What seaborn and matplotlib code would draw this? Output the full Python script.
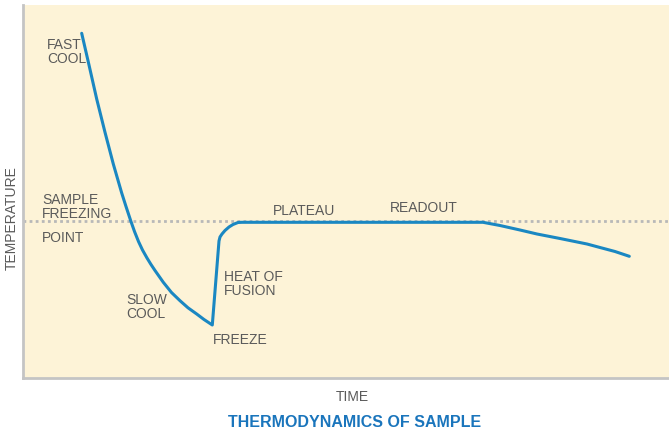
import matplotlib
matplotlib.use("Agg")
import matplotlib.pyplot as plt
import seaborn as sns

# Curve (arbitrary units: time ->, temperature ^)
time = [58.7, 66, 73.7, 82, 90.3, 98.7, 103, 107.7, 111.5, 115.5, 119.5,
        124, 128, 132, 140.3, 148.5, 157, 165, 173.7, 181, 189.3,
        196, 197, 199, 202, 206, 210, 215, 219,
        460, 477, 497, 514, 537, 564, 577, 592, 606.3]
temperature = [344.7, 313, 279, 245.7, 214, 185, 171.5, 157.3, 146.5, 136.5, 128,
               120, 113.5, 107.5, 95.7, 85.5, 77.3, 70.2, 64, 58.5, 53,
               137, 141, 144, 147.5, 151, 153.5, 155.5, 155.7,
               155.7, 152.5, 148, 144, 139.5, 134, 130.5, 126.5, 121.7]
freezing_point = 157.3

labels = ["FAST\nCOOL", "SAMPLE\nFREEZING", "POINT", "SLOW\nCOOL",
          "HEAT OF\nFUSION", "FREEZE", "PLATEAU", "READOUT"]
label_x = [24, 19, 19, 103, 201, 190, 250, 367]
label_y = [341, 186, 148, 86, 109, 46, 175, 178]

bg = "#fdf3d7"
blue = "#1a87c2"
grey_text = "#5a5a5a"

sns.set_style("white")
plt.rcParams["font.family"] = ["Liberation Sans", "DejaVu Sans"]

W, H = 669, 431
fig = plt.figure(figsize=(W / 100, H / 100), dpi=100)
ax = fig.add_axes([23 / W, (H - 379) / H, (W - 23) / W, (379 - 6) / H])
ax.set_facecolor(bg)

ax.axhline(freezing_point, color="#b8b8b8", lw=2, ls=(0, (1, 1.2)), zorder=1)
sns.lineplot(x=time, y=temperature, sort=False, estimator=None, ax=ax,
             color=blue, lw=2.2, zorder=3)

for txt, x, y in zip(labels, label_x, label_y):
    ax.text(x, y, txt, ha="left", va="top", fontsize=10, color=grey_text,
            linespacing=1.0)

ax.set_xlim(0, W - 23)
ax.set_ylim(0, 373)
ax.set_xticks([])
ax.set_yticks([])
ax.set_xlabel("")
ax.set_ylabel("")
for side in ["top", "right"]:
    ax.spines[side].set_visible(False)
for side in ["left", "bottom"]:
    ax.spines[side].set_color("#c4c4c4")
    ax.spines[side].set_linewidth(2)

fig.text(352 / W, 1 - 397 / H, "TIME", ha="center", va="center",
         fontsize=10, color=grey_text)
fig.text(12 / W, 1 - 218 / H, "TEMPERATURE", ha="center", va="center",
         rotation=90, fontsize=10, color=grey_text)
fig.text(355 / W, 1 - 423 / H, "THERMODYNAMICS OF SAMPLE", ha="center",
         va="center", fontsize=11.5, fontweight="bold", color="#1a75bc")

fig.savefig("out.png", dpi=100, facecolor="white")
